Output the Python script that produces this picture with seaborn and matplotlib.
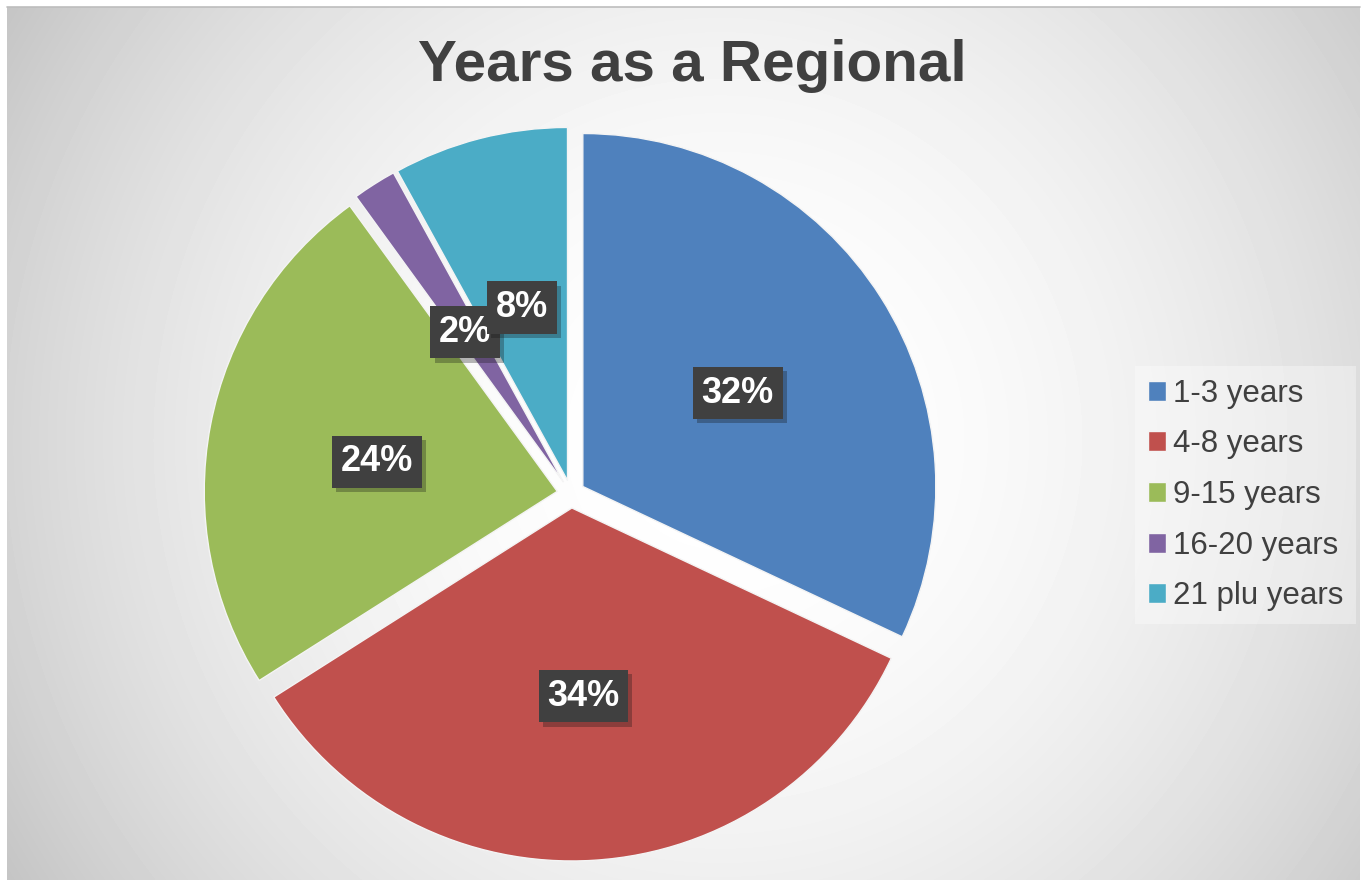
import matplotlib.pyplot as plt
import matplotlib.patheffects as pe
import numpy as np
import seaborn as sns

# chart data
categories = ['1-3 years', '4-8 years', '9-15 years', '16-20 years', '21 plu years']
shares = [32, 34, 24, 2, 8]
colors = ['#4F81BD', '#C0504D', '#9BBB59', '#8064A2', '#4BACC6']

sns.set_style('white')
plt.rcParams['font.family'] = ['Liberation Sans', 'DejaVu Sans']

W, H = 1364, 886
fig = plt.figure(figsize=(W / 100, H / 100), dpi=100)
fig.patch.set_facecolor('white')
ax = fig.add_axes([0, 0, 1, 1])

# radial grey background
yy, xx = np.mgrid[7:880, 7:1360]
d = np.hypot(xx - 720, yy - 440)
d = d / d.max()
bg = 1 - 0.23 * d ** 2
ax.imshow(bg, cmap='gray', vmin=0, vmax=1, extent=(7, 1360, 6, 879),
          origin='upper', zorder=0, interpolation='bilinear')
ax.plot([7, 1360], [879, 879], color='#bdbdbd', lw=1.2, zorder=0.5)

wedges, _, autotexts = ax.pie(
    shares, colors=colors, startangle=90, counterclock=False,
    explode=[14] * len(shares), radius=353, center=(571, 392),
    autopct='%1.0f%%', pctdistance=0.52,
    wedgeprops=dict(linewidth=1, edgecolor='#f4f4f4'),
    textprops=dict(color='white', fontsize=26, fontweight='bold'))

for t in autotexts:
    t.set_y(t.get_position()[1] - 5)
    t.set_bbox(dict(boxstyle='square,pad=0.24', fc='#404040', ec='none'))
    t.get_bbox_patch().set_path_effects(
        [pe.SimplePatchShadow(offset=(3, -3), alpha=0.3), pe.Normal()])
    t.set_zorder(5)

ax.set_xlim(0, W)
ax.set_ylim(0, H)
ax.set_aspect('equal')
ax.axis('off')

fig.text(692 / W, 1 - 66 / H, 'Years as a Regional', ha='center', va='center',
         fontsize=42, fontweight='bold', color='#404040')

leg = ax.legend(wedges, categories, loc='center left',
                bbox_to_anchor=(1135 / W, 1 - 495 / H), bbox_transform=fig.transFigure,
                fontsize=22.5, frameon=True, fancybox=False, borderaxespad=0,
                borderpad=0.4, handlelength=0.6, handleheight=0.6,
                handletextpad=0.22, labelspacing=0.66)
leg.get_frame().set_facecolor('white')
leg.get_frame().set_alpha(0.35)
leg.get_frame().set_edgecolor('none')
for txt in leg.get_texts():
    txt.set_color('#404040')

fig.savefig('out.png', dpi=100, facecolor=fig.get_facecolor())
